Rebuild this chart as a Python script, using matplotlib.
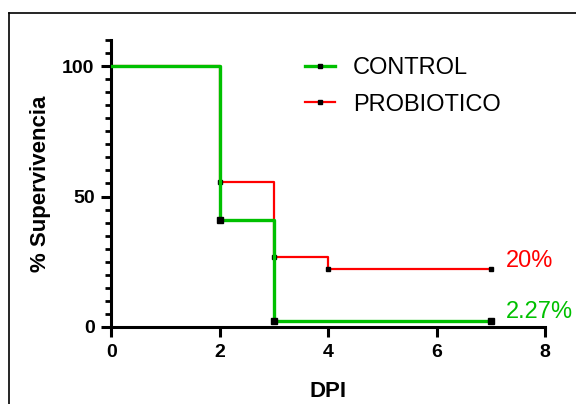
import numpy as np
import matplotlib.pyplot as plt
from matplotlib.lines import Line2D

plt.rcParams['font.family'] = ['Liberation Sans', 'DejaVu Sans']

# Survival data (days post infection vs % survival)
dpi_control = [0, 2, 3, 7]
surv_control = [100, 40.9, 2.27, 2.27]
dpi_probio = [0, 2, 3, 4, 7]
surv_probio = [100, 55.6, 26.7, 22.2, 22.2]
end_labels = ['2.27%', '20%']

green = '#00C000'
red = '#FF0000'

fig = plt.figure(figsize=(5.76, 4.04), dpi=100)
ax = fig.add_axes([0.193, 0.1906, 0.7535, 0.7106])

# Probiotico first so control sits on top
ax.step(dpi_probio, surv_probio, where='post', color=red, lw=1.6, zorder=2)
ax.plot(dpi_probio[1:], surv_probio[1:], 's', color='black', ms=3.5, zorder=2)
ax.step(dpi_control, surv_control, where='post', color=green, lw=2.4, zorder=3)
ax.plot(dpi_control[1:], surv_control[1:], 's', color='black', ms=4, zorder=4)

ax.set_xlim(0, 8)
ax.set_ylim(0, 110)
ax.set_xticks([0, 2, 4, 6, 8])
ax.set_yticks([0, 50, 100])
ax.set_yticks(np.arange(0, 111, 5), minor=True)

for s in ['top', 'right']:
    ax.spines[s].set_visible(False)
for s in ['left', 'bottom']:
    ax.spines[s].set_linewidth(2.2)

ax.tick_params(which='major', length=7, width=2.2, labelsize=14, pad=5)
ax.tick_params(which='minor', length=4.5, width=2)
for lbl in ax.get_xticklabels() + ax.get_yticklabels():
    lbl.set_fontweight('bold')

ax.set_xlabel('DPI', fontsize=16, fontweight='bold', labelpad=15)
ax.set_ylabel('% Supervivencia', fontsize=16, fontweight='bold', labelpad=8)

handles = [
    Line2D([], [], color=green, lw=2.4, marker='s', ms=3, mfc='black', mec='black'),
    Line2D([], [], color=red, lw=1.6, marker='s', ms=3, mfc='black', mec='black'),
]
ax.legend(handles, ['CONTROL', 'PROBIOTICO'], loc='upper left',
          bbox_to_anchor=(0.398, 1.013), frameon=False, fontsize=17,
          handlelength=1.27, handletextpad=0.76, labelspacing=0.6, numpoints=1)

ax.text(7.27, 25.3, end_labels[1], color=red, fontsize=17, va='center', clip_on=False)
ax.text(7.27, 5.7, end_labels[0], color=green, fontsize=17, va='center', clip_on=False)

# outer frame of the screenshot
fig.add_artist(Line2D([9 / 576, 9 / 576], [0, 1 - 13 / 404], color='black', lw=1.2))
fig.add_artist(Line2D([9 / 576, 1], [1 - 13 / 404, 1 - 13 / 404], color='black', lw=1.2))

fig.savefig('out.png', dpi=100)
